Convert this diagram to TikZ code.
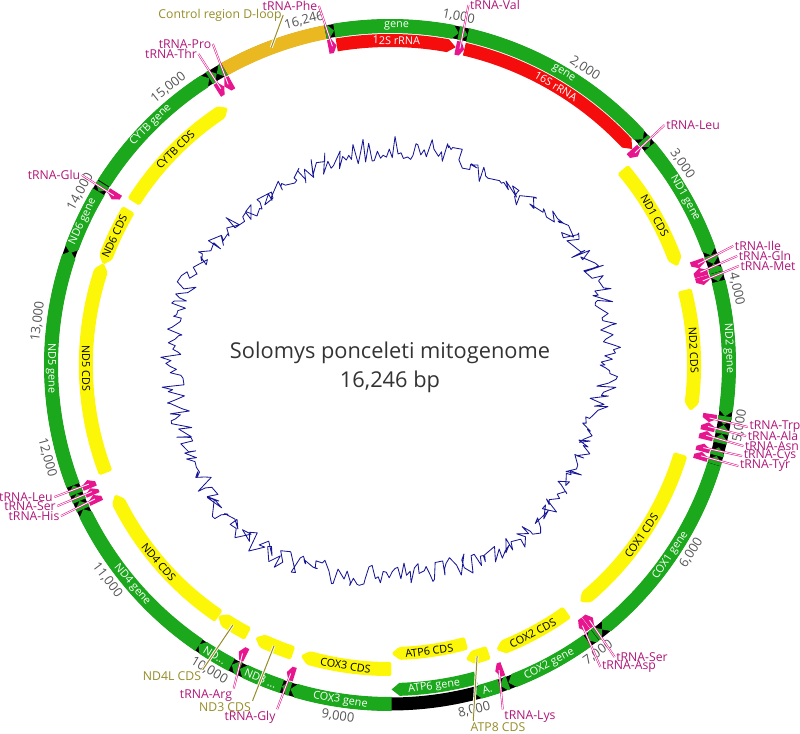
\documentclass[tikz,border=0pt]{standalone}
\usepackage{fontspec}
\setmainfont{Open Sans}
\usetikzlibrary{positioning}
\definecolor{genegreen}{RGB}{28,168,28}
\definecolor{rrnared}{RGB}{245,12,12}
\definecolor{trnapink}{RGB}{232,22,142}
\definecolor{trnatext}{RGB}{176,22,120}
\definecolor{cdsyellow}{RGB}{252,246,8}
\definecolor{dloopgold}{RGB}{234,184,32}
\definecolor{olivetxt}{RGB}{150,140,40}
\definecolor{tickgray}{RGB}{85,85,85}
\definecolor{gcblue}{RGB}{22,22,150}
\tikzset{
    gene/.style = {fill=genegreen},
    rrna/.style = {fill=rrnared},
    trnaf/.style = {fill=trnapink},
    cds/.style = {fill=cdsyellow, rounded corners=1.2pt},
    dloop/.style = {fill=dloopgold},
    genetxt/.style = {text=white, inner sep=0pt, font=\fontsize{7.7}{8}\selectfont},
    cdstxt/.style = {text=black, inner sep=0pt, font=\fontsize{7.7}{8}\selectfont},
    ticklbl/.style = {text=tickgray, inner sep=0pt, font=\fontsize{9.2}{10}\selectfont},
    trnalbl/.style = {text=trnatext, inner sep=1pt, font=\fontsize{8.7}{10}\selectfont},
    cdslbl/.style = {text=olivetxt, inner sep=1pt, font=\fontsize{8.7}{10}\selectfont},
    title/.style = {text=black!80, inner sep=0pt, font=\fontsize{15.5}{18}\selectfont},
    pointer/.style = {draw=trnapink, line width=0.4pt, double=white, double distance=0.6pt},
    pointero/.style = {draw=olivetxt, line width=0.7pt, preaction={draw=white, line width=2pt}},
    gcline/.style = {draw=gcblue, line width=0.6pt, line join=round},
}
% feature arrow on a ring: start, end, r in, r out, strand, style, head
\newcommand{\feat}[7]{%
  \pgfmathsetmacro\aS{101-(#1)/16246*360}%
  \pgfmathsetmacro\aE{101-(#2)/16246*360}%
  \pgfmathsetmacro\rM{(#3+#4)/2}%
  \pgfmathsetmacro\hd{min(#7/\rM*57.2958,(\aS-\aE)*0.7)}%
  \ifnum#5>0
    \pgfmathsetmacro\aH{\aE+\hd}%
    \fill[#6] (\aS:#4) arc[start angle=\aS, end angle=\aH, radius=#4] -- (\aE:\rM)
      -- (\aH:#3) arc[start angle=\aH, end angle=\aS, radius=#3] -- cycle;
  \else\ifnum#5<0
    \pgfmathsetmacro\aH{\aS-\hd}%
    \fill[#6] (\aE:#4) arc[start angle=\aE, end angle=\aH, radius=#4] -- (\aS:\rM)
      -- (\aH:#3) arc[start angle=\aH, end angle=\aE, radius=#3] -- cycle;
  \else
    \fill[#6] (\aS:#4) arc[start angle=\aS, end angle=\aE, radius=#4]
      -- (\aE:#3) arc[start angle=\aE, end angle=\aS, radius=#3] -- cycle;
  \fi\fi
}
% text along the ring: name, position, radius, style, text
\newcommand{\flabel}[5]{%
  \pgfmathsetmacro\aL{101-(#2)/16246*360}%
  \pgfmathsetmacro\rL{mod(\aL+720,180)-90}%
  \node[#4, rotate=\rL] at (\aL:#3) (#1) {#5};
}
% tRNA arrow with a coordinate in its middle
\newcommand{\trna}[4]{%
  \feat{#2}{#3}{317}{331}{#4}{trnaf}{4}%
  \pgfmathsetmacro\aM{101-((#2)/2+(#3)/2)/16246*360}%
  \coordinate (#1) at (\aM:324);
}

\begin{document}
\begin{tikzpicture}[x=0.025cm, y=0.025cm]
\useasboundingbox (-390,-369) rectangle (410,365);
%
% GC content
\pgfmathsetseed{11}
\draw[gcline] plot[domain=0:360, samples=460, variable=\t]
  ({\t}:{204+5*sin(2*\t+30)+4*sin(5*\t)+24*rnd}) -- cycle;
\node[title] at (0,12) (ttl) {Solomys ponceleti mitogenome};
\node[title] at (0,-17) (tlen) {16,246 bp};
%
% ticks
\foreach \k in {1,...,15} {\flabel{tick\k}{\k*1000}{355}{ticklbl}{\k,000}}
\flabel{tick0}{16111}{355}{ticklbl}{16,246}
%
% gene ring
\fill[black, even odd rule] (0,0) circle[radius=345.5] (0,0) circle[radius=332.5];
\feat{1}{68}{332}{346}{1}{gene}{6}
\feat{70}{1024}{332}{346}{1}{gene}{6}
\feat{1025}{1093}{332}{346}{1}{gene}{6}
\feat{1094}{2675}{332}{346}{1}{gene}{6}
\feat{2676}{2750}{332}{346}{1}{gene}{6}
\feat{2751}{3705}{332}{346}{1}{gene}{6}
\feat{3706}{3774}{332}{346}{1}{gene}{6}
\feat{3772}{3842}{332}{346}{-1}{gene}{6}
\feat{3845}{3913}{332}{346}{1}{gene}{6}
\feat{3914}{4951}{332}{346}{1}{gene}{6}
\feat{4950}{5016}{332}{346}{1}{gene}{6}
\feat{5018}{5086}{332}{346}{-1}{gene}{6}
\feat{5089}{5159}{332}{346}{-1}{gene}{6}
\feat{5192}{5257}{332}{346}{-1}{gene}{6}
\feat{5260}{5326}{332}{346}{-1}{gene}{6}
\feat{5328}{6872}{332}{346}{1}{gene}{6}
\feat{6870}{6938}{332}{346}{-1}{gene}{6}
\feat{6942}{7009}{332}{346}{1}{gene}{6}
\feat{7013}{7696}{332}{346}{1}{gene}{6}
\feat{7700}{7764}{332}{346}{1}{gene}{6}
\feat{7766}{7969}{332}{346}{1}{gene}{6}
\feat{8607}{9390}{332}{346}{1}{gene}{6}
\feat{9391}{9458}{332}{346}{1}{gene}{6}
\feat{9459}{9806}{332}{346}{1}{gene}{6}
\feat{9808}{9875}{332}{346}{1}{gene}{6}
\feat{9877}{10173}{332}{346}{1}{gene}{6}
\feat{10167}{11544}{332}{346}{1}{gene}{6}
\feat{11545}{11613}{332}{346}{1}{gene}{6}
\feat{11614}{11672}{332}{346}{1}{gene}{6}
\feat{11673}{11742}{332}{346}{1}{gene}{6}
\feat{11743}{13566}{332}{346}{1}{gene}{6}
\feat{13550}{14068}{332}{346}{-1}{gene}{6}
\feat{14069}{14137}{332}{346}{-1}{gene}{6}
\feat{14145}{15288}{332}{346}{1}{gene}{6}
\feat{15289}{15355}{332}{346}{1}{gene}{6}
\feat{15356}{15424}{332}{346}{-1}{gene}{6}
\feat{15425}{16246}{332}{346}{0}{dloop}{6}
\coordinate (dl) at (110.5:339);
%
% rRNA, ATP6 gene
\feat{70}{1024}{318}{331}{1}{rrna}{8}
\feat{1094}{2675}{318}{331}{1}{rrna}{8}
\feat{7927}{8607}{318}{331}{1}{gene}{8}
%
% tRNA
\trna{tphe}{1}{68}{1}
\trna{tval}{1025}{1093}{1}
\trna{tleu1}{2676}{2750}{1}
\trna{tile}{3706}{3774}{1}
\trna{tgln}{3772}{3842}{-1}
\trna{tmet}{3845}{3913}{1}
\trna{ttrp}{4950}{5016}{1}
\trna{tala}{5018}{5086}{-1}
\trna{tasn}{5089}{5159}{-1}
\trna{tcys}{5192}{5257}{-1}
\trna{ttyr}{5260}{5326}{-1}
\trna{tser1}{6870}{6938}{-1}
\trna{tasp}{6942}{7009}{1}
\trna{tlys}{7700}{7764}{1}
\trna{tgly}{9391}{9458}{1}
\trna{targ}{9808}{9875}{1}
\trna{this}{11545}{11613}{1}
\trna{tser2}{11614}{11672}{1}
\trna{tleu2}{11673}{11742}{1}
\trna{tglu}{14069}{14137}{-1}
\trna{tthr}{15289}{15355}{1}
\trna{tpro}{15356}{15424}{-1}
%
% CDS
\feat{2751}{3705}{297}{311}{1}{cds}{8}
\feat{3914}{4951}{297}{311}{1}{cds}{8}
\feat{5328}{6872}{297}{311}{1}{cds}{8}
\feat{7013}{7696}{297}{311}{1}{cds}{8}
\feat{7766}{7969}{297}{311}{1}{cds}{8}
\feat{7927}{8607}{282}{295}{1}{cds}{8}
\feat{8607}{9390}{297}{311}{1}{cds}{8}
\feat{9459}{9806}{297}{311}{1}{cds}{8}
\feat{9877}{10173}{297}{311}{1}{cds}{8}
\feat{10167}{11544}{297}{311}{1}{cds}{8}
\feat{11743}{13566}{297}{311}{1}{cds}{8}
\feat{13550}{14068}{297}{311}{-1}{cds}{8}
\feat{14145}{15288}{297}{311}{1}{cds}{8}
\coordinate (catp8) at ({101-7868/16246*360}:304);
\coordinate (cnd3) at ({101-9632/16246*360}:304);
\coordinate (cnd4l) at ({101-10025/16246*360}:304);
%
% labels on the features
\flabel{g12s}{547}{339}{genetxt}{gene}
\flabel{g16s}{1885}{339}{genetxt}{gene}
\flabel{gnd1}{3228}{339}{genetxt}{ND1 gene}
\flabel{gnd2}{4432}{339}{genetxt}{ND2 gene}
\flabel{gcox1}{6100}{339}{genetxt}{COX1 gene}
\flabel{gcox2}{7355}{339}{genetxt}{COX2 gene}
\flabel{gatp8}{7868}{339}{genetxt}{A.}
\flabel{gcox3}{9000}{339}{genetxt}{COX3 gene}
\flabel{gnd3}{9632}{339}{genetxt}{ND3 ...}
\flabel{gnd4l}{10025}{339}{genetxt}{ND...}
\flabel{gnd4}{10855}{339}{genetxt}{ND4 gene}
\flabel{gnd5}{12655}{339}{genetxt}{ND5 gene}
\flabel{gnd6}{13810}{339}{genetxt}{ND6 gene}
\flabel{gcytb}{14716}{339}{genetxt}{CYTB gene}
\flabel{r12s}{547}{324.5}{genetxt}{12S rRNA}
\flabel{r16s}{1885}{324.5}{genetxt}{16S rRNA}
\flabel{gatp6}{8267}{324.5}{genetxt}{ATP6 gene}
\flabel{cnd1}{3228}{304}{cdstxt}{ND1 CDS}
\flabel{cnd2}{4432}{304}{cdstxt}{ND2 CDS}
\flabel{ccox1}{6100}{304}{cdstxt}{COX1 CDS}
\flabel{ccox2}{7355}{304}{cdstxt}{COX2 CDS}
\flabel{catp6}{8267}{288.5}{cdstxt}{ATP6 CDS}
\flabel{ccox3}{9000}{304}{cdstxt}{COX3 CDS}
\flabel{cnd4}{10855}{304}{cdstxt}{ND4 CDS}
\flabel{cnd5}{12655}{304}{cdstxt}{ND5 CDS}
\flabel{cnd6}{13810}{304}{cdstxt}{ND6 CDS}
\flabel{ccytb}{14716}{304}{cdstxt}{CYTB CDS}
%
% outer labels
\node[cdslbl] at (-170,350) (ldl) {Control region D-loop};
\node[cdslbl] at (108,-362) (latp8) {ATP8 CDS};
\node[cdslbl] at (-165,-342) (lnd3) {ND3 CDS};
\node[cdslbl] at (-218,-311) (lnd4l) {ND4L CDS};
\node[trnalbl] at (-100,359) (lphe) {tRNA-Phe};
\node[trnalbl] at (105,360) (lval) {tRNA-Val};
\node[trnalbl] at (303,240) (lleu1) {tRNA-Leu};
\node[trnalbl] at (368,119) (lile) {tRNA-Ile};
\node[trnalbl] at (375,109) (lgln) {tRNA-Gln};
\node[trnalbl] at (378,99) (lmet) {tRNA-Met};
\node[trnalbl] at (385,-62) (ltrp) {tRNA-Trp};
\node[trnalbl] at (383,-71) (lala) {tRNA-Ala};
\node[trnalbl] at (382,-81) (lasn) {tRNA-Asn};
\node[trnalbl] at (380,-91) (lcys) {tRNA-Cys};
\node[trnalbl] at (375,-101) (ltyr) {tRNA-Tyr};
\node[trnalbl] at (252,-292) (lser1) {tRNA-Ser};
\node[trnalbl] at (239,-302) (lasp) {tRNA-Asp};
\node[trnalbl] at (140,-352) (llys) {tRNA-Lys};
\node[trnalbl] at (-140,-352) (lgly) {tRNA-Gly};
\node[trnalbl] at (-184,-331) (larg) {tRNA-Arg};
\node[trnalbl] at (-364,-132) (lleu2) {tRNA-Leu};
\node[trnalbl] at (-360,-141) (lser2) {tRNA-Ser};
\node[trnalbl] at (-356,-151) (lhis) {tRNA-His};
\node[trnalbl] at (-336,190) (lglu) {tRNA-Glu};
\node[trnalbl] at (-219,311) (lthr) {tRNA-Thr};
\node[trnalbl] at (-205,321) (lpro) {tRNA-Pro};
%
\draw[pointero] (ldl.east) -- (dl);
\draw[pointero] ([xshift=3pt]latp8.north west) -- (catp8);
\draw[pointero] (lnd3.north east) -- (cnd3);
\draw[pointero] (lnd4l.north east) -- (cnd4l);
\draw[pointer] (lphe.east) -- (tphe);
\draw[pointer] (lval.west) -- (tval);
\draw[pointer] (lleu1.west) -- (tleu1);
\draw[pointer] (lile.west) -- (tile);
\draw[pointer] (lgln.west) -- (tgln);
\draw[pointer] (lmet.west) -- (tmet);
\draw[pointer] (ltrp.west) -- (ttrp);
\draw[pointer] (lala.west) -- (tala);
\draw[pointer] (lasn.west) -- (tasn);
\draw[pointer] (lcys.west) -- (tcys);
\draw[pointer] (ltyr.west) -- (ttyr);
\draw[pointer] (lser1.west) -- (tser1);
\draw[pointer] (lasp.west) -- (tasp);
\draw[pointer] (llys.north west) -- (tlys);
\draw[pointer] (lgly.north east) -- (tgly);
\draw[pointer] (larg.north east) -- (targ);
\draw[pointer] (lleu2.east) -- (tleu2);
\draw[pointer] (lser2.east) -- (tser2);
\draw[pointer] (lhis.east) -- (this);
\draw[pointer] (lglu.east) -- (tglu);
\draw[pointer] (lthr.east) -- (tthr);
\draw[pointer] (lpro.east) -- (tpro);
\end{tikzpicture}
\end{document}
